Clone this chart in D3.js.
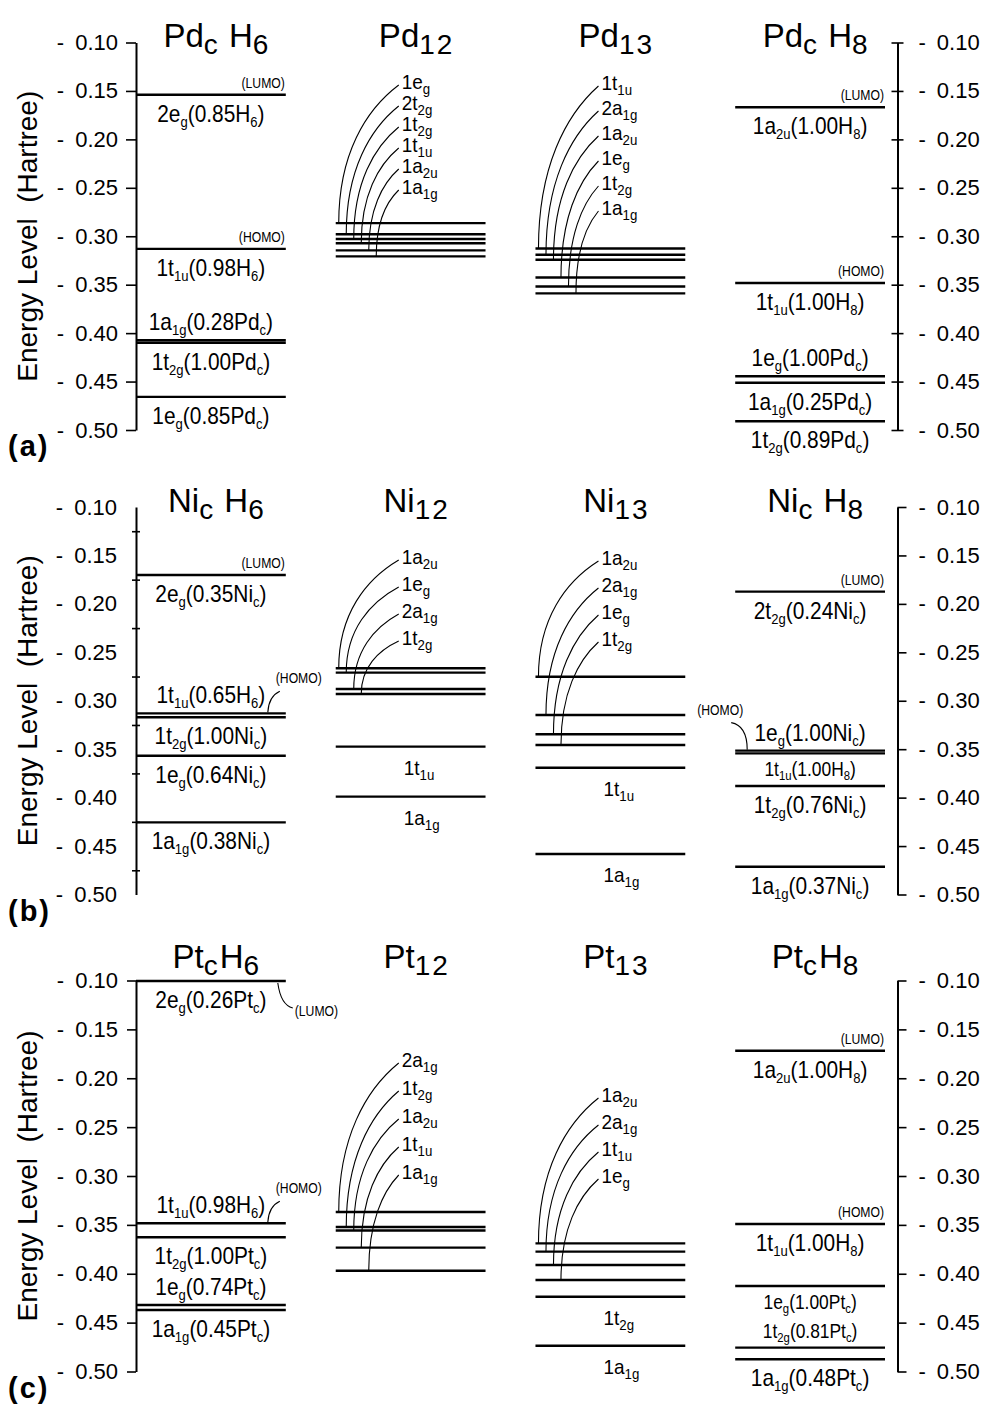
<!DOCTYPE html>
<html>
<head>
<meta charset="utf-8">
<script src="https://cdn.jsdelivr.net/npm/d3@7"></script>
<style>
  body { margin: 0; background: #fff; }
  svg { font-family: "Liberation Sans", Arial, Helvetica, sans-serif; }
  text { white-space: pre; fill: #000; }
</style>
</head>
<body>
<div id="chart"></div>
<script>
var WIDTH = 981
var HEIGHT = 1405

// energy axis (Hartree)
var tickValues = [-0.10, -0.15, -0.20, -0.25, -0.30, -0.35, -0.40, -0.45, -0.50];
var midTicks = [-0.125, -0.175, -0.225, -0.275, -0.325, -0.375, -0.425, -0.475];

var panelNames = ["(a)", "(b)", "(c)"];
var columnTitles = [
    ["Pd_{c} H_{6}", "Pd_{12}", "Pd_{13}", "Pd_{c} H_{8}"],
    ["Ni_{c} H_{6}", "Ni_{12}", "Ni_{13}", "Ni_{c} H_{8}"],
    ["Pt_{c}H_{6}", "Pt_{12}", "Pt_{13}", "Pt_{c}H_{8}"]
];

// ---- (a) Pd ----
var pdcH6 = [
    { e: -0.154, lab: "2e_{g}(0.85H_{6})", pos: "below", tag: "LUMO" },
    { e: -0.313, lab: "1t_{1u}(0.98H_{6})", pos: "below", tag: "HOMO" },
    { e: -0.4074, lab: "1a_{1g}(0.28Pd_{c})", pos: "above" },
    { e: -0.410, lab: "1t_{2g}(1.00Pd_{c})", pos: "below" },
    { e: -0.4658, lab: "1e_{g}(0.85Pd_{c})", pos: "below" }
];
var pd12 = [
    { e: -0.2864, lab: "1e_{g}", pos: "curve" },
    { e: -0.2979, lab: "2t_{2g}", pos: "curve" },
    { e: -0.3028, lab: "1t_{2g}", pos: "curve" },
    { e: -0.3072, lab: "1t_{1u}", pos: "curve" },
    { e: -0.3146, lab: "1a_{2u}", pos: "curve" },
    { e: -0.3208, lab: "1a_{1g}", pos: "curve" }
];
var pd13 = [
    { e: -0.3127, lab: "1t_{1u}", pos: "curve" },
    { e: -0.3191, lab: "2a_{1g}", pos: "curve" },
    { e: -0.3242, lab: "1a_{2u}", pos: "curve" },
    { e: -0.3426, lab: "1e_{g}", pos: "curve" },
    { e: -0.3518, lab: "1t_{2g}", pos: "curve" },
    { e: -0.3590, lab: "1a_{1g}", pos: "curve" }
];
var pdcH8 = [
    { e: -0.1668, lab: "1a_{2u}(1.00H_{8})", pos: "below", tag: "LUMO" },
    { e: -0.3483, lab: "1t_{1u}(1.00H_{8})", pos: "below", tag: "HOMO" },
    { e: -0.4445, lab: "1e_{g}(1.00Pd_{c})", pos: "above" },
    { e: -0.4513, lab: "1a_{1g}(0.25Pd_{c})", pos: "below" },
    { e: -0.4910, lab: "1t_{2g}(0.89Pd_{c})", pos: "below" }
];

// ---- (b) Ni ----
var nicH6 = [
    { e: -0.1702, lab: "2e_{g}(0.35Ni_{c})", pos: "below", tag: "LUMO" },
    { e: -0.3130, lab: "1t_{1u}(0.65H_{6})", pos: "above", tag: "HOMO", tagPos: "curveRight" },
    { e: -0.3171, lab: "1t_{2g}(1.00Ni_{c})", pos: "below" },
    { e: -0.3567, lab: "1e_{g}(0.64Ni_{c})", pos: "below" },
    { e: -0.4255, lab: "1a_{1g}(0.38Ni_{c})", pos: "below" }
];
var ni12 = [
    { e: -0.2665, lab: "1a_{2u}", pos: "curve" },
    { e: -0.2710, lab: "1e_{g}", pos: "curve" },
    { e: -0.2879, lab: "2a_{1g}", pos: "curve" },
    { e: -0.2930, lab: "1t_{2g}", pos: "curve" },
    { e: -0.3474, lab: "1t_{1u}", pos: "below" },
    { e: -0.3990, lab: "1a_{1g}", pos: "below" }
];
var ni13 = [
    { e: -0.2752, lab: "1a_{2u}", pos: "curve" },
    { e: -0.3147, lab: "2a_{1g}", pos: "curve" },
    { e: -0.3346, lab: "1e_{g}", pos: "curve" },
    { e: -0.3457, lab: "1t_{2g}", pos: "curve" },
    { e: -0.3691, lab: "1t_{1u}", pos: "below" },
    { e: -0.4582, lab: "1a_{1g}", pos: "below" }
];
var nicH8 = [
    { e: -0.1874, lab: "2t_{2g}(0.24Ni_{c})", pos: "below", tag: "LUMO" },
    { e: -0.3515, lab: "1e_{g}(1.00Ni_{c})", pos: "above", tag: "HOMO", tagPos: "curveLeft" },
    { e: -0.3543, lab: "1t_{1u}(1.00H_{8})", pos: "below" },
    { e: -0.3880, lab: "1t_{2g}(0.76Ni_{c})", pos: "below" },
    { e: -0.4713, lab: "1a_{1g}(0.37Ni_{c})", pos: "below" }
];

// ---- (c) Pt ----
var ptcH6 = [
    { e: -0.1005, lab: "2e_{g}(0.26Pt_{c})", pos: "below", tag: "LUMO", tagPos: "curveDown" },
    { e: -0.3484, lab: "1t_{1u}(0.98H_{6})", pos: "above", tag: "HOMO", tagPos: "curveRight" },
    { e: -0.3627, lab: "1t_{2g}(1.00Pt_{c})", pos: "below" },
    { e: -0.4320, lab: "1e_{g}(0.74Pt_{c})", pos: "above" },
    { e: -0.4371, lab: "1a_{1g}(0.45Pt_{c})", pos: "below" }
];
var pt12 = [
    { e: -0.3368, lab: "2a_{1g}", pos: "curve" },
    { e: -0.3522, lab: "1t_{2g}", pos: "curve" },
    { e: -0.3558, lab: "1a_{2u}", pos: "curve" },
    { e: -0.3733, lab: "1t_{1u}", pos: "curve" },
    { e: -0.3969, lab: "1a_{1g}", pos: "curve" }
];
var pt13 = [
    { e: -0.3689, lab: "1a_{2u}", pos: "curve" },
    { e: -0.3774, lab: "2a_{1g}", pos: "curve" },
    { e: -0.3910, lab: "1t_{1u}", pos: "curve" },
    { e: -0.4064, lab: "1e_{g}", pos: "curve" },
    { e: -0.4235, lab: "1t_{2g}", pos: "below" },
    { e: -0.4736, lab: "1a_{1g}", pos: "below" }
];
var ptcH8 = [
    { e: -0.1718, lab: "1a_{2u}(1.00H_{8})", pos: "below", tag: "LUMO" },
    { e: -0.3491, lab: "1t_{1u}(1.00H_{8})", pos: "below", tag: "HOMO" },
    { e: -0.4125, lab: "1e_{g}(1.00Pt_{c})", pos: "below" },
    { e: -0.4756, lab: "1t_{2g}(0.81Pt_{c})", pos: "above" },
    { e: -0.4875, lab: "1a_{1g}(0.48Pt_{c})", pos: "below" }
];

var panelLevels = [
    [pdcH6, pd12, pd13, pdcH8],
    [nicH6, ni12, ni13, nicH8],
    [ptcH6, pt12, pt13, ptcH8]
];

// layout (pixels)
var panelRange = [[42.5, 430], [507, 894.5], [980.5, 1371.5]];
var titleBase = [47, 512, 968];
var curveStack = [[[82, 21], [83, 25]], [[557, 27], [558, 27]], [[1060, 28], [1095, 27]]];
var SQ = 0.87;

const svg = d3.select('#chart').append('svg')
    .attr('width', WIDTH)
    .attr('height', HEIGHT)

var x = d3.scaleBand().domain([0, 1, 2, 3]).range([136, 885]).paddingInner(0.25);

// text with _{sub} pieces
function richText(parent, str, opt) {
    var g = parent.append('g')
        .attr('transform', 'translate(' + opt.x + ',' + opt.y + ') scale(' + (opt.squeeze || 1) + ',1)');
    var t = g.append('text')
        .attr('text-anchor', opt.anchor || 'start')
        .attr('font-size', opt.size);
    var re = /_\{([^}]*)\}/g, last = 0, m, down = 0;
    function piece(s, isSub) {
        if (!s) return;
        var ts = t.append('tspan').text(s);
        if (isSub) {
            ts.attr('font-size', opt.sub).attr('dy', opt.shift - down);
            if (opt.spacing) ts.attr('letter-spacing', opt.spacing);
            down = opt.shift;
        } else {
            ts.attr('dy', -down);
            down = 0;
        }
    }
    while ((m = re.exec(str)) !== null) {
        piece(str.slice(last, m.index), false);
        piece(m[1], true);
        last = re.lastIndex;
    }
    piece(str.slice(last), false);
    return t;
}

function fmtTick(d) {
    return "-\u2002" + d3.format(".2f")(-d);
}

// smaller type for the cluster orbital names
var clusterText = { size: 20, sub: 14, shift: 5, squeeze: 0.95 };

panelLevels.forEach(function (cols, pi) {
    var y = d3.scaleLinear().domain([-0.10, -0.50]).range(panelRange[pi]);
    var g = svg.append('g');

    // left axis
    var left = g.append('g').attr('transform', 'translate(' + x(0) + ',0)');
    if (pi == 1) {
        left.call(d3.axisLeft(y).tickValues(tickValues).tickFormat(fmtTick)
            .tickSizeInner(0).tickSizeOuter(0).tickPadding(19));
        var mt = g.append('g').attr('transform', 'translate(' + x(0) + ',0)')
            .call(d3.axisLeft(y).tickValues(midTicks).tickFormat('').tickSizeInner(4).tickSizeOuter(0));
        mt.select('.domain').remove();
        mt.selectAll('.tick line').attr('x2', 4).attr('x1', -4);
    } else {
        left.call(d3.axisLeft(y).tickValues(tickValues).tickFormat(fmtTick)
            .tickSizeInner(pi == 0 ? 10 : 9).tickSizeOuter(0).tickPadding(pi == 0 ? 8 : 9));
    }

    // right axis
    var rx = x(3) + x.bandwidth() + 12.5;
    var right = g.append('g').attr('transform', 'translate(' + rx + ',0)');
    if (pi == 0) {
        right.call(d3.axisRight(y).tickValues(tickValues).tickFormat(fmtTick)
            .tickSizeInner(6).tickSizeOuter(0).tickPadding(15));
        right.selectAll('.tick line').attr('x1', -6);
    } else {
        right.call(d3.axisRight(y).tickValues(tickValues).tickFormat(fmtTick)
            .tickSizeInner(9).tickSizeOuter(0).tickPadding(12));
    }

    g.selectAll('.domain').attr('stroke', '#000').attr('stroke-width', 2);
    g.selectAll('.tick line').attr('stroke', '#000').attr('stroke-width', 1.6);
    g.selectAll('.tick text').attr('font-size', 22).attr('fill', '#000')
        .attr('font-family', '"Liberation Sans", Arial, sans-serif');

    // axis title
    var mid = (panelRange[pi][0] + panelRange[pi][1]) / 2;
    g.append('text')
        .attr('transform', 'translate(37,' + mid + ') rotate(-90)')
        .attr('text-anchor', 'middle')
        .attr('font-size', 28)
        .text('Energy Level  (Hartree)');

    // panel letter
    g.append('text')
        .attr('x', 8).attr('y', panelRange[pi][1] + 26)
        .attr('font-size', 29).attr('font-weight', 'bold').attr('letter-spacing', 2)
        .text(panelNames[pi]);

    cols.forEach(function (levels, ci) {
        var x0 = x(ci), x1 = x(ci) + x.bandwidth(), cx = x0 + x.bandwidth() / 2;

        // column title
        richText(g, columnTitles[pi][ci], {
            x: cx + 6, y: titleBase[pi], anchor: 'middle', size: 33, sub: 28, shift: 7, spacing: 2
        });

        // levels
        g.selectAll(null)
            .data(levels)
            .enter()
            .append('line')
            .attr('x1', x0).attr('x2', x1)
            .attr('y1', d => y(d.e)).attr('y2', d => y(d.e))
            .attr('stroke', '#000')
            .attr('stroke-width', 2.4);

        // direct labels
        levels.forEach(function (d, i) {
            var ly = y(d.e);
            if (d.pos == 'below' || d.pos == 'above') {
                // free room shared with neighbours decides the size
                var gap, share = 1;
                if (d.pos == 'below') {
                    var nx = levels[i + 1];
                    gap = nx ? y(nx.e) - ly : 99;
                    if (nx && nx.pos == 'above') share = 2;
                } else {
                    var pv = levels[i - 1];
                    gap = pv ? ly - y(pv.e) : 99;
                    if (pv && pv.pos == 'below') share = 2;
                }
                var small = gap / share < 33.5;
                var size = small ? 20 : 24;
                var by = d.pos == 'below' ? ly + (small ? 23 : 27) : ly - 10;
                if (ci == 1 || ci == 2) {
                    richText(g, d.lab, Object.assign({ x: x0 + 68, y: ly + 28, anchor: 'start' }, clusterText));
                } else {
                    richText(g, d.lab, { x: cx, y: by, anchor: 'middle', size: size, sub: small ? 13 : 15, shift: small ? 4 : 5, squeeze: SQ });
                }
            }
            if (d.tag) {
                var tp = d.tagPos || 'top';
                var tag = '(' + d.tag + ')';
                if (tp == 'top') {
                    richText(g, tag, { x: x1 - 1, y: ly - 7, anchor: 'end', size: 14, squeeze: SQ });
                } else if (tp == 'curveRight') {
                    richText(g, tag, { x: x1 - 10, y: ly - 30, anchor: 'start', size: 14, squeeze: SQ });
                    g.append('path')
                        .attr('d', 'M' + (x1 - 6) + ',' + (ly - 22) + ' Q' + (x1 - 17) + ',' + (ly - 17) + ' ' + (x1 - 18) + ',' + (ly - 1))
                        .attr('fill', 'none').attr('stroke', '#000').attr('stroke-width', 1.1);
                } else if (tp == 'curveDown') {
                    richText(g, tag, { x: x1 + 9, y: ly + 35, anchor: 'start', size: 14, squeeze: SQ });
                    g.append('path')
                        .attr('d', 'M' + (x1 - 8) + ',' + (ly + 2) + ' Q' + (x1 - 5) + ',' + (ly + 24) + ' ' + (x1 + 7) + ',' + (ly + 27))
                        .attr('fill', 'none').attr('stroke', '#000').attr('stroke-width', 1.1);
                } else if (tp == 'curveLeft') {
                    richText(g, tag, { x: x0 + 8, y: ly - 36, anchor: 'end', size: 14, squeeze: SQ });
                    g.append('path')
                        .attr('d', 'M' + (x0 - 4) + ',' + (ly - 28) + ' Q' + (x0 + 12) + ',' + (ly - 25) + ' ' + (x0 + 12) + ',' + (ly - 1))
                        .attr('fill', 'none').attr('stroke', '#000').attr('stroke-width', 1.1);
                }
            }
        });

        // stacked labels with connector arcs
        var curved = levels.filter(d => d.pos == 'curve');
        if (curved.length) {
            var st = curveStack[pi][ci - 1];
            var lx = x0 + 66;
            curved.forEach(function (d, k) {
                var cy = st[0] + k * st[1];
                richText(g, d.lab, Object.assign({ x: lx, y: cy + 7, anchor: 'start' }, clusterText));
                var sx = lx - 3, sy = cy + 3;
                var ex = x0 + 3 + k * 7.5, ey = y(d.e);
                var p1x = sx - 0.55 * (sx - ex), p1y = sy + 0.18 * (ey - sy);
                var p2x = ex, p2y = sy + 0.5 * (ey - sy);
                g.append('path')
                    .attr('d', 'M' + sx + ',' + sy + ' C' + p1x + ',' + p1y + ' ' + p2x + ',' + p2y + ' ' + ex + ',' + ey)
                    .attr('fill', 'none')
                    .attr('stroke', '#000')
                    .attr('stroke-width', 1.1);
            });
        }
    });
});
</script>
</body>
</html>
